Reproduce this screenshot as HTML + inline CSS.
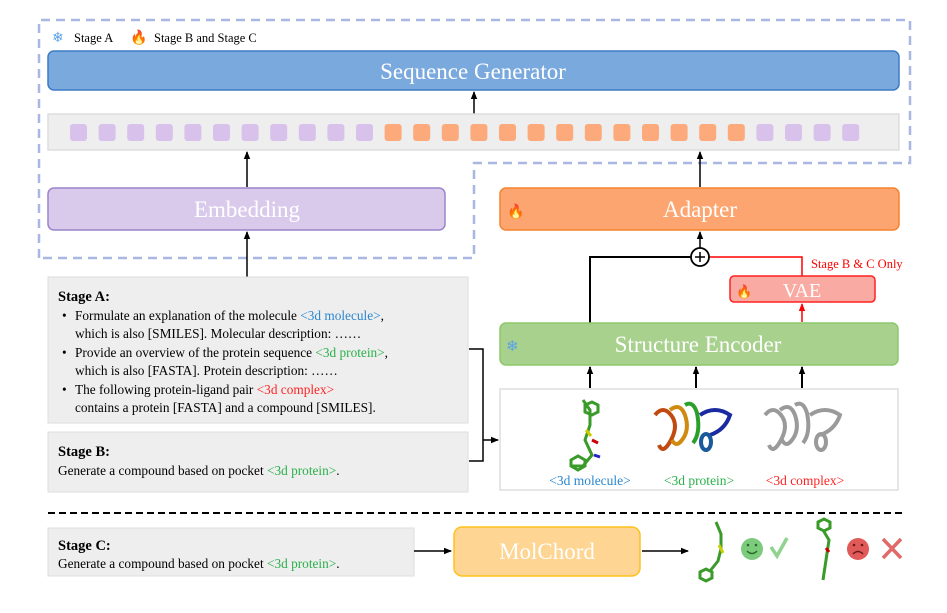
<!DOCTYPE html>
<html><head><meta charset="utf-8"><style>
body{margin:0;width:947px;height:608px;background:#fff;overflow:hidden;font-family:"Liberation Serif",serif;}
</style></head><body>
<svg width="947" height="608" viewBox="0 0 947 608" xmlns="http://www.w3.org/2000/svg" font-family="Liberation Serif, serif">
<defs><marker id="a" markerWidth="8" markerHeight="8" refX="7" refY="4" orient="auto" markerUnits="userSpaceOnUse"><path d="M0,0.8 L8,4 L0,7.2z" fill="#000"/></marker>
<marker id="r" markerWidth="8" markerHeight="8" refX="7" refY="4" orient="auto" markerUnits="userSpaceOnUse"><path d="M0,0.8 L8,4 L0,7.2z" fill="#f00"/></marker></defs>
<!-- dashed outline -->
<path d="M39,258 L39,20 L910,20 L910,163 L474,163 L474,258 Z" fill="none" stroke="#a9b8e3" stroke-width="2.5" stroke-dasharray="9,6"/>
<text x="52" y="42" font-size="14" fill="#5aa0e8">❄</text>
<text x="74" y="42" font-size="12.5">Stage A</text>
<text x="130" y="42" font-size="14" fill="#f25a1a">🔥</text>
<text x="154" y="42" font-size="12.5">Stage B and Stage C</text>
<rect x="48" y="51" width="851" height="39" rx="6" fill="#7aa9de" stroke="#3d7ac6" stroke-width="1.5"/>
<text x="473" y="79" font-size="23" fill="#fff" text-anchor="middle">Sequence Generator</text>
<line x1="474" y1="114" x2="474" y2="92" stroke="#000" stroke-width="1.5" marker-end="url(#a)"/>
<rect x="48" y="114" width="851" height="36" fill="#eeeeee" stroke="#dddddd" stroke-width="1.5"/>
<g id="sq"></g>
<line x1="247" y1="187" x2="247" y2="152" stroke="#000" stroke-width="1.5" marker-end="url(#a)"/>
<line x1="700" y1="187" x2="700" y2="152" stroke="#000" stroke-width="1.5" marker-end="url(#a)"/>
<rect x="48" y="188" width="397" height="42" rx="6" fill="#d9caeb" stroke="#9a84ca" stroke-width="1.5"/>
<text x="247" y="217" font-size="23" fill="#fff" text-anchor="middle">Embedding</text>
<rect x="500" y="188" width="399" height="42" rx="6" fill="#fda571" stroke="#f5832f" stroke-width="1.5"/>
<text x="507" y="216" font-size="14" fill="#e8401a">🔥</text>
<text x="700" y="217" font-size="23" fill="#fff" text-anchor="middle">Adapter</text>
<line x1="247" y1="277" x2="247" y2="232" stroke="#000" stroke-width="1.5" marker-end="url(#a)"/>
<line x1="700" y1="248" x2="700" y2="232" stroke="#000" stroke-width="1.5" marker-end="url(#a)"/>
<polyline points="590,323 590,257 691,257" fill="none" stroke="#000" stroke-width="2"/>
<polyline points="709,257 802,257 802,276" fill="none" stroke="#f00" stroke-width="1.5"/>
<circle cx="700" cy="257" r="9" fill="#fff" stroke="#000" stroke-width="1.8"/>
<path d="M695,257 H705 M700,252 V262" stroke="#000" stroke-width="1.5"/>
<text x="811" y="268" font-size="12.5" fill="#f00">Stage B &amp; C Only</text>
<rect x="730" y="276" width="145" height="26" rx="4" fill="#f9aaa3" stroke="#f22" stroke-width="1.5"/>
<text x="736" y="296" font-size="13" fill="#e8401a">🔥</text>
<text x="802" y="297" font-size="20" fill="#fff" text-anchor="middle">VAE</text>
<line x1="802" y1="322" x2="802" y2="304" stroke="#f00" stroke-width="1.5" marker-end="url(#r)"/>
<rect x="500" y="323" width="398" height="42" rx="6" fill="#a8d18e" stroke="#8cc76b" stroke-width="1.5"/>
<text x="506" y="351" font-size="15" fill="#5aa0e8">❄</text>
<text x="698" y="352" font-size="23" fill="#fff" text-anchor="middle">Structure Encoder</text>
<line x1="590" y1="388" x2="590" y2="367" stroke="#000" stroke-width="2" marker-end="url(#a)"/>
<line x1="696" y1="388" x2="696" y2="367" stroke="#000" stroke-width="2" marker-end="url(#a)"/>
<line x1="802" y1="388" x2="802" y2="367" stroke="#000" stroke-width="2" marker-end="url(#a)"/>
<rect x="500" y="389" width="398" height="101" fill="#fff" stroke="#ddd" stroke-width="1.5"/>
<!-- molecule -->
<g stroke="#3a9a2a" stroke-width="3" fill="none"><path d="M583,400 L590,410 L590,425 L585,440 L592,455 L583,466 L572,466"/><path d="M571,460 l7,-4 l7,4 l0,6 l-7,4 l-7,-4z"/><path d="M585,405 l7,-3 l6,3 l0,7 l-6,3 l-7,-3z"/></g>
<path d="M592,440 l6,3" stroke="#c00" stroke-width="3"/><path d="M594,455 l6,2" stroke="#22c" stroke-width="3"/><path d="M586,430 l5,6" stroke="#cc0" stroke-width="3"/>
<!-- protein -->
<g fill="none" stroke-width="4">
<path d="M655,415 q8,-10 16,0 q8,10 0,25 q-8,15 -12,5" stroke="#c04a10"/>
<path d="M670,410 q10,-8 15,5 q5,15 -3,25 q-6,8 -10,0" stroke="#d08a10"/>
<path d="M685,405 q8,-5 12,8 q4,20 -4,30" stroke="#2aa02a"/>
<path d="M700,415 q15,-10 30,0 q-5,15 -20,20" stroke="#1a2aa0"/>
<ellipse cx="706" cy="442" rx="5" ry="8" stroke="#1a5a9a"/>
</g>
<!-- complex -->
<g fill="none" stroke="#9a9a9a" stroke-width="4">
<path d="M765,415 q8,-10 16,0 q8,10 0,25 q-8,15 -12,5"/>
<path d="M780,410 q10,-8 15,5 q5,15 -3,25 q-6,8 -10,0"/>
<path d="M795,405 q8,-5 12,8 q4,20 -4,30"/>
<path d="M810,415 q15,-10 30,0 q-5,15 -20,20"/>
<ellipse cx="821" cy="442" rx="5" ry="8"/>
</g>
<text x="590" y="485" font-size="13.5" fill="#2a86d0" text-anchor="middle">&lt;3d molecule&gt;</text>
<text x="699" y="485" font-size="13.5" fill="#2ab04a" text-anchor="middle">&lt;3d protein&gt;</text>
<text x="805" y="485" font-size="13.5" fill="#f22" text-anchor="middle">&lt;3d complex&gt;</text>
<!-- text boxes -->
<rect x="48" y="277" width="420" height="146" fill="#eeeeee" stroke="#ddd"/>
<g font-size="13.3">
<text x="58" y="301" font-weight="bold" font-size="14.5">Stage A:</text>
<text x="62" y="320">•</text><text x="75" y="320">Formulate an explanation of the molecule <tspan fill="#2a86d0">&lt;3d molecule&gt;</tspan>,</text>
<text x="75" y="338">which is also [SMILES]. Molecular description: ……</text>
<text x="62" y="357">•</text><text x="75" y="357">Provide an overview of the protein sequence <tspan fill="#2ab04a">&lt;3d protein&gt;</tspan>,</text>
<text x="75" y="375">which is also [FASTA]. Protein description: ……</text>
<text x="62" y="394">•</text><text x="75" y="394">The following protein-ligand pair <tspan fill="#f22">&lt;3d complex&gt;</tspan></text>
<text x="75" y="412">contains a protein [FASTA] and a compound [SMILES].</text>
</g>
<rect x="48" y="432" width="420" height="60" fill="#eeeeee" stroke="#ddd"/>
<text x="58" y="456" font-weight="bold" font-size="14.5">Stage B:</text>
<text x="58" y="475" font-size="13.3">Generate a compound based on pocket <tspan fill="#2ab04a">&lt;3d protein&gt;</tspan>.</text>
<polyline points="469,349 483,349 483,461 469,461" fill="none" stroke="#000" stroke-width="1.5"/>
<line x1="483" y1="440" x2="498" y2="440" stroke="#000" stroke-width="1.5" marker-end="url(#a)"/>
<line x1="48" y1="513" x2="906" y2="513" stroke="#000" stroke-width="2" stroke-dasharray="7,4"/>
<rect x="48" y="528" width="366" height="48" fill="#eeeeee" stroke="#ddd"/>
<text x="58" y="550" font-weight="bold" font-size="14.5">Stage C:</text>
<text x="58" y="568" font-size="13.3">Generate a compound based on pocket <tspan fill="#2ab04a">&lt;3d protein&gt;</tspan>.</text>
<line x1="414" y1="551" x2="451" y2="551" stroke="#000" stroke-width="1.5" marker-end="url(#a)"/>
<rect x="454" y="527" width="186" height="49" rx="8" fill="#fed592" stroke="#fdc11c" stroke-width="1.5"/>
<text x="547" y="559" font-size="23" fill="#fff" text-anchor="middle">MolChord</text>
<line x1="642" y1="551" x2="688" y2="551" stroke="#000" stroke-width="1.5" marker-end="url(#a)"/>
<g stroke="#3a9a2a" stroke-width="3" fill="none"><path d="M716,522 l5,12 l0,15 l-3,12 l-8,10"/><path d="M700,572 l6,-3 l6,3 l0,6 l-6,3 l-6,-3z"/></g>
<path d="M719,545 l4,8" stroke="#cc0" stroke-width="3"/>
<circle cx="752" cy="549" r="11" fill="#7ccb7c"/>
<path d="M747,551 q5,5 10,0" stroke="#2a6a2a" stroke-width="1.5" fill="none"/><circle cx="748" cy="545" r="1.3" fill="#2a6a2a"/><circle cx="756" cy="545" r="1.3" fill="#2a6a2a"/>
<path d="M771,547 l6,9 l10,-18" stroke="#8fd38f" stroke-width="3.5" fill="none"/>
<g stroke="#3a9a2a" stroke-width="3" fill="none"><path d="M823,530 l6,10 l-3,20 l-3,20"/><path d="M818,522 l6,-3 l6,3 l0,6 l-6,3 l-6,-3z"/></g>
<path d="M826,548 l3,4" stroke="#c00" stroke-width="3"/>
<circle cx="858" cy="549" r="11" fill="#e05a5a"/>
<path d="M853,554 q5,-5 10,0" stroke="#6a1a1a" stroke-width="1.5" fill="none"/><circle cx="854" cy="545" r="1.3" fill="#6a1a1a"/><circle cx="862" cy="545" r="1.3" fill="#6a1a1a"/>
<path d="M883,539 l18,19 M901,539 l-18,19" stroke="#e06a6a" stroke-width="3.5"/>
<g>
<rect x="70" y="124" width="17" height="17" rx="3" fill="#d8c2ec"/><rect x="98.6" y="124" width="17" height="17" rx="3" fill="#d8c2ec"/><rect x="127.2" y="124" width="17" height="17" rx="3" fill="#d8c2ec"/><rect x="155.8" y="124" width="17" height="17" rx="3" fill="#d8c2ec"/><rect x="184.4" y="124" width="17" height="17" rx="3" fill="#d8c2ec"/><rect x="213" y="124" width="17" height="17" rx="3" fill="#d8c2ec"/><rect x="241.6" y="124" width="17" height="17" rx="3" fill="#d8c2ec"/><rect x="270.2" y="124" width="17" height="17" rx="3" fill="#d8c2ec"/><rect x="298.8" y="124" width="17" height="17" rx="3" fill="#d8c2ec"/><rect x="327.4" y="124" width="17" height="17" rx="3" fill="#d8c2ec"/><rect x="356" y="124" width="17" height="17" rx="3" fill="#d8c2ec"/>
<rect x="384.6" y="124" width="17" height="17" rx="3" fill="#fcaa7b"/><rect x="413.2" y="124" width="17" height="17" rx="3" fill="#fcaa7b"/><rect x="441.8" y="124" width="17" height="17" rx="3" fill="#fcaa7b"/><rect x="470.4" y="124" width="17" height="17" rx="3" fill="#fcaa7b"/><rect x="499" y="124" width="17" height="17" rx="3" fill="#fcaa7b"/><rect x="527.6" y="124" width="17" height="17" rx="3" fill="#fcaa7b"/><rect x="556.2" y="124" width="17" height="17" rx="3" fill="#fcaa7b"/><rect x="584.8" y="124" width="17" height="17" rx="3" fill="#fcaa7b"/><rect x="613.4" y="124" width="17" height="17" rx="3" fill="#fcaa7b"/><rect x="642" y="124" width="17" height="17" rx="3" fill="#fcaa7b"/><rect x="670.6" y="124" width="17" height="17" rx="3" fill="#fcaa7b"/><rect x="699.2" y="124" width="17" height="17" rx="3" fill="#fcaa7b"/><rect x="727.8" y="124" width="17" height="17" rx="3" fill="#fcaa7b"/>
<rect x="756.4" y="124" width="17" height="17" rx="3" fill="#d8c2ec"/><rect x="785" y="124" width="17" height="17" rx="3" fill="#d8c2ec"/><rect x="813.6" y="124" width="17" height="17" rx="3" fill="#d8c2ec"/><rect x="842.2" y="124" width="17" height="17" rx="3" fill="#d8c2ec"/>
</g>
</svg>
</body></html>
